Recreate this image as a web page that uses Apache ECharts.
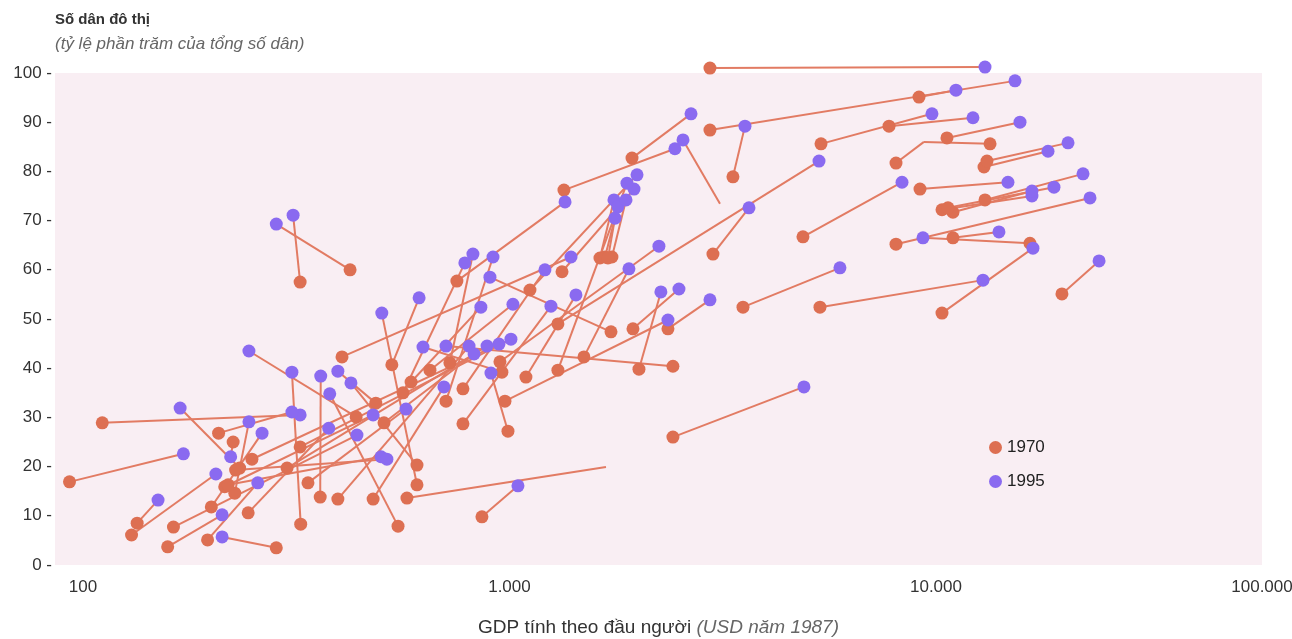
<!DOCTYPE html>
<html>
<head>
<meta charset="utf-8">
<script src="https://cdn.jsdelivr.net/npm/echarts@6/dist/echarts.min.js"></script>
<style>
html,body{margin:0;padding:0;background:#fff;}
#chart{width:1292px;height:639px;}
</style>
</head>
<body>
<div id="chart"></div>
<script>
// GDP per capita (USD 1987) and urban population share (%) for each country, 1970 and 1995
const gdp1970 = [2952,2952,9125,3342,5376,7761,10610,13390,8059,12960,13170,4877,9174,10330,10960,13030,10670,8059,10960,16610,10330,5346,19740,3528,3000,1299,1938,1342,3116,2417,862,575,1630,1675,1739,1702,753,1328,1299,1117,950,405,778,1495,725,563,710,1730,1093,2012,1948,2353,976,588,651,778,530,607,437,324,360,486,607,548,960,2417,396,508,301,249,323,479,992,337,215,233,111,208,227,200,244,163,93,284,134,130,158,196,225,219,228,323,423];
const urban1970 = [101.0,88.4,95.1,78.9,85.6,89.2,86.8,85.6,81.7,80.9,82.1,66.7,76.4,72.2,71.7,74.2,72.6,65.2,66.5,65.4,51.2,52.4,55.1,52.4,63.2,49.0,82.7,76.2,73.4,26.0,9.8,13.6,62.4,62.6,62.6,62.4,57.7,59.6,39.6,55.9,41.3,42.3,35.8,42.3,41.1,35.0,33.3,47.4,38.2,39.8,48.0,48.0,33.3,37.2,39.6,28.7,40.7,16.3,30.1,8.3,13.8,32.9,20.3,7.9,39.2,40.4,13.4,28.9,19.7,21.5,24.0,13.4,27.2,16.7,15.9,19.7,28.9,26.8,14.6,11.8,10.6,7.7,16.9,3.5,8.5,6.1,3.7,5.1,25.0,16.3,19.3,57.5,60.0];
const gdp1995 = [13030,15320,11140,3566,9786,12210,15740,9371,9371,18310,20400,8325,14750,16790,16790,22120,18910,22970,14050,9322,16880,12890,24120,5955,3644,5318,2665,2443,2552,4903,1047,1684,1758,1796,1876,1768,1350,1959,1886,1991,2241,1394,1211,1906,821,786,915,900,1432,2265,2497,2952,2353,857,1019,1251,614,502,245,309,361,396,425,379,627,710,804,826,886,945,1008,702,905,572,479,169,323,309,245,263,377,439,172,212,150,205,212,257,222,500,516,311,284];
const urban1995 = [101.2,98.4,96.5,89.2,91.7,90.9,90.0,86.0,86.0,84.1,85.8,77.8,77.8,75.0,76.0,79.5,76.8,74.6,67.7,66.5,64.4,57.9,61.8,60.4,72.6,82.1,91.7,84.6,86.4,36.2,16.1,19.9,74.2,72.8,74.2,70.5,73.8,76.4,77.6,79.3,64.8,62.6,60.0,60.2,63.2,61.4,62.6,58.5,54.9,55.5,56.1,53.9,49.8,52.4,53.0,52.6,54.3,51.2,43.5,39.2,38.4,39.4,37.0,34.8,44.3,44.5,44.5,42.9,44.5,44.9,45.9,36.2,39.0,31.7,30.5,31.9,30.5,31.1,29.1,26.8,27.8,26.4,22.6,5.7,13.2,18.5,10.2,16.7,22.0,22.0,21.5,71.1,69.3];
// entries whose dot is not printed in the original (only the connecting line is)
const noDot1970 = [28];
const noDot1995 = [7, 8, 31];
const yearLabels = ['1970', '1995'];
const yTicks = [0, 10, 20, 30, 40, 50, 60, 70, 80, 90, 100];

const FONT = '"Liberation Sans", Arial, Helvetica, sans-serif';
const C70 = '#dd6f52', C95 = '#8a6af0', CLINE = '#e27b63';

const linesData = gdp1970.map((g, i) => ({coords: [[g, urban1970[i]], [gdp1995[i], urban1995[i]]]}));
const pts70 = gdp1970.map((g, i) => [g, urban1970[i]]).filter((_, i) => noDot1970.indexOf(i) < 0);
const pts95 = gdp1995.map((g, i) => [g, urban1995[i]]).filter((_, i) => noDot1995.indexOf(i) < 0);

function fmtX(v) {
  const l = Math.log10(v);
  if (Math.abs(l - Math.round(l)) < 1e-6) {
    return String(Math.round(v)).replace(/\B(?=(\d{3})+(?!\d))/g, '.');
  }
  if (v > 50000) return '100.000';
  return '';
}

const chart = echarts.init(document.getElementById('chart'), null, {renderer: 'canvas'});
chart.setOption({
  animation: false,
  backgroundColor: '#ffffff',
  textStyle: {fontFamily: FONT},
  title: {
    left: 50, top: 7, itemGap: 9,
    text: 'Số dân đô thị',
    textStyle: {fontSize: 15, fontWeight: 'bold', color: '#333', fontFamily: FONT},
    subtext: '(tỷ lệ phần trăm của tổng số dân)',
    subtextStyle: {fontSize: 17, fontStyle: 'italic', color: '#666', fontFamily: FONT}
  },
  legend: {
    data: yearLabels,
    orient: 'vertical',
    left: 984, top: 434,
    icon: 'circle', itemWidth: 13, itemHeight: 13, itemGap: 17,
    textStyle: {fontSize: 17, color: '#222', fontFamily: FONT}
  },
  grid: {
    left: 55, right: 30, top: 73, bottom: 74,
    outerBoundsMode: 'none', containLabel: false,
    show: true, backgroundColor: '#f9eef3', borderWidth: 0
  },
  xAxis: {
    type: 'log', logBase: 10, min: 86, max: 58130,
    axisLine: {show: false}, axisTick: {show: false}, splitLine: {show: false},
    axisLabel: {formatter: fmtX, fontSize: 17, color: '#333', margin: 14, fontFamily: FONT, showMinLabel: true, showMaxLabel: true},
    name: 'GDP tính theo đầu người {i|(USD năm 1987)}',
    nameLocation: 'middle', nameGap: 53,
    nameTextStyle: {fontSize: 19, color: '#333', fontFamily: FONT,
      rich: {i: {fontSize: 19, fontStyle: 'italic', color: '#666', fontFamily: FONT}}}
  },
  yAxis: {
    type: 'value', min: yTicks[0], max: yTicks[yTicks.length - 1], interval: 10,
    axisLine: {show: false}, axisTick: {show: false}, splitLine: {show: false},
    axisLabel: {formatter: '{value} -', fontSize: 17, color: '#333', margin: 3, fontFamily: FONT}
  },
  series: [
    {
      type: 'lines', coordinateSystem: 'cartesian2d', clip: false, silent: true,
      lineStyle: {color: CLINE, width: 2, opacity: 1, curveness: 0},
      data: linesData, z: 2
    },
    {
      name: yearLabels[0], type: 'scatter', data: pts70, clip: false,
      symbol: 'circle', symbolSize: 13, itemStyle: {color: C70, opacity: 1}, z: 3
    },
    {
      name: yearLabels[1], type: 'scatter', data: pts95, clip: false,
      symbol: 'circle', symbolSize: 13, itemStyle: {color: C95, opacity: 1}, z: 4
    }
  ]
});
</script>
</body>
</html>
